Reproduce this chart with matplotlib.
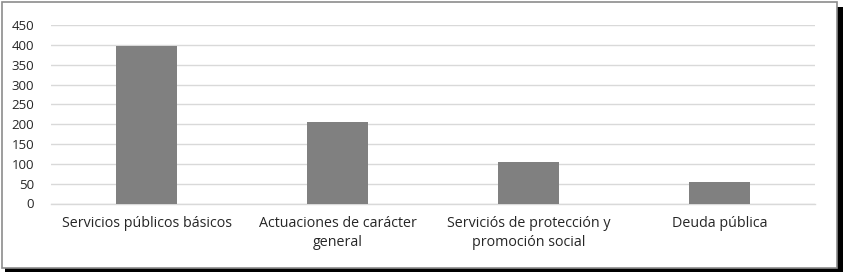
import matplotlib
matplotlib.use("Agg")
import matplotlib.pyplot as plt
from matplotlib.patches import Rectangle

categories = ["Servicios públicos básicos",
              "Actuaciones de carácter\ngeneral",
              "Serviciós de protección y\npromoción social",
              "Deuda pública"]
values = [398, 205, 105, 54]
yticks = [0, 50, 100, 150, 200, 250, 300, 350, 400, 450]

plt.rcParams['font.family'] = ['Open Sans', 'DejaVu Sans']

fig = plt.figure(figsize=(8.43, 2.72), dpi=100)
ax = fig.add_axes([51/843, 1-203.5/272, (815-51)/843, (203.5-25)/272])

x = list(range(len(categories)))
ax.bar(x, values, width=0.32, color="#808080", zorder=3)
ax.set_xlim(-0.5, len(categories)-0.5)
ax.set_ylim(0, 450)
ax.set_yticks(yticks)
ax.set_yticklabels([str(t) for t in yticks], fontsize=9.5, color="#262626")
ax.set_xticks(x)
ax.set_xticklabels(categories, fontsize=10.3, color="#262626", linespacing=1.35)
ax.tick_params(axis='both', length=0)
ax.tick_params(axis='x', pad=9)
ax.tick_params(axis='y', pad=12)
ax.grid(axis='y', color="#d9d9d9", linewidth=1, zorder=0)
for s in ['top', 'right', 'left']:
    ax.spines[s].set_visible(False)
ax.spines['bottom'].set_color("#d9d9d9")
ax.spines['bottom'].set_linewidth(1)

# frame with shadow
W, H = 843, 272
fig.patches.append(Rectangle((5/W, 0), 838/W, 265/H, transform=fig.transFigure,
                             facecolor="#000000", edgecolor="none", zorder=-2))
fig.patches.append(Rectangle((2/W, 4/H), 835/W, 266/H, transform=fig.transFigure,
                             facecolor="white", edgecolor="#8c8c8c", linewidth=1.2, zorder=-1))

fig.savefig("out.png", dpi=100)
